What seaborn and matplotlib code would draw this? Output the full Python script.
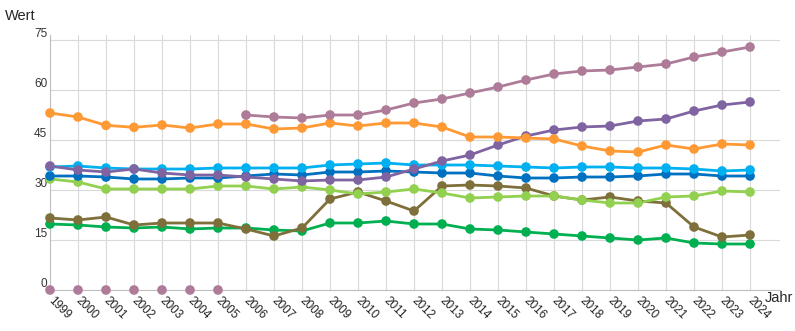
import numpy as np
import pandas as pd
import matplotlib
matplotlib.use("Agg")
import matplotlib.pyplot as plt
import matplotlib.transforms as mtransforms
import seaborn as sns

years = list(range(1999, 2025))

orange = [53.1, 51.9, 49.4, 48.8, 49.5, 48.6, 49.8, 49.8, 48.3, 48.6, 50.1, 49.2, 50.1,
          50.1, 48.9, 45.9, 45.9, 45.6, 45.3, 43.2, 41.7, 41.4, 43.5, 42.3, 43.8, 43.5]
mauve = [0, 0, 0, 0, 0, 0, 0, 52.5, 51.9, 51.6, 52.5, 52.5, 54.0,
         56.1, 57.3, 59.1, 60.9, 63.0, 64.8, 65.7, 66.0, 66.9, 67.8, 69.9, 71.4, 72.9]
purple = [37.2, 36.0, 35.4, 36.3, 35.1, 34.5, 34.5, 33.9, 33.3, 32.7, 33.0, 33.0, 33.9,
          36.3, 38.7, 40.5, 43.5, 46.2, 48.0, 48.9, 49.2, 50.7, 51.3, 53.7, 55.5, 56.4]
light_blue = [36.9, 37.2, 36.6, 36.3, 36.3, 36.3, 36.6, 36.6, 36.6, 36.6, 37.5, 37.8, 38.1,
              37.5, 37.5, 37.5, 37.2, 36.9, 36.6, 36.9, 36.9, 36.6, 36.6, 36.3, 35.7, 36.0]
dark_blue = [34.2, 34.2, 33.9, 33.3, 33.3, 33.6, 33.6, 34.2, 34.8, 34.5, 35.4, 35.4, 35.7,
             35.4, 35.1, 35.1, 34.2, 33.6, 33.6, 33.9, 33.9, 34.2, 34.8, 34.8, 34.2, 34.2]
light_green = [33.3, 32.4, 30.3, 30.3, 30.3, 30.3, 31.2, 31.2, 30.3, 30.9, 30.0, 28.8, 29.4,
               30.3, 29.1, 27.6, 27.9, 28.2, 28.2, 27.0, 26.1, 26.1, 27.9, 28.2, 29.7, 29.4]
olive = [21.6, 21.0, 21.9, 19.5, 20.1, 20.1, 20.1, 18.3, 16.2, 18.6, 27.3, 29.4, 26.7,
         23.7, 31.2, 31.5, 31.2, 30.6, 28.2, 27.0, 27.9, 26.7, 26.1, 18.9, 15.9, 16.5]
green = [19.8, 19.5, 18.9, 18.6, 18.9, 18.3, 18.6, 18.6, 18.0, 17.7, 20.1, 20.1, 20.7,
         19.8, 19.8, 18.3, 18.0, 17.4, 16.8, 16.2, 15.6, 15.0, 15.6, 14.1, 13.8, 13.8]

series = {
    "green": green,
    "olive": olive,
    "light_green": light_green,
    "dark_blue": dark_blue,
    "light_blue": light_blue,
    "purple": purple,
    "orange": orange,
    "mauve": mauve,
}
colors = {
    "green": "#00b050",
    "olive": "#7f6f3a",
    "light_green": "#92d050",
    "dark_blue": "#0070c0",
    "light_blue": "#00b0f0",
    "purple": "#8064a2",
    "orange": "#ff9933",
    "mauve": "#ae7c98",
}

rows = []
for name, vals in series.items():
    for y, v in zip(years, vals):
        rows.append({"Jahr": y, "Wert": v, "Reihe": name})
df = pd.DataFrame(rows)
# zero entries of the mauve series are shown as markers only, without a connecting line
df["Linie"] = df["Wert"].where(~((df["Reihe"] == "mauve") & (df["Wert"] == 0)))

sns.set_theme(style="white")
plt.rcParams["font.family"] = ["Liberation Sans", "DejaVu Sans"]

fig = plt.figure(figsize=(7.95, 3.31), dpi=100)
ax = fig.add_axes([50 / 795, 1 - 290 / 331, 730 / 795, 255 / 331])

sns.lineplot(data=df, x="Jahr", y="Linie", hue="Reihe", palette=colors,
             hue_order=list(series.keys()), linewidth=2, legend=False, ax=ax,
             estimator=None, sort=True)
sns.scatterplot(data=df, x="Jahr", y="Wert", hue="Reihe", palette=colors,
                hue_order=list(series.keys()), s=48, linewidth=0, legend=False,
                ax=ax, clip_on=False, zorder=3)

ax.set_xlim(1999, 2025.07)
ax.set_ylim(0, 76.5)
ax.set_yticks([0, 15, 30, 45, 60, 75])
ax.set_xticks(years)
ax.set_xticklabels([str(y) for y in years], rotation=-45, ha="left", va="top",
                   rotation_mode="anchor", fontsize=8.5, color="#222222")
ax.tick_params(axis="x", length=0, pad=0)
ax.tick_params(axis="y", length=0, pad=2, labelsize=8.5, labelcolor="#333333")
shift = mtransforms.ScaledTranslation(4 / 100, -5 / 100, fig.dpi_scale_trans)
for lab in ax.get_xticklabels():
    lab.set_transform(lab.get_transform() + shift)
for lab in ax.get_yticklabels():
    lab.set_verticalalignment("bottom")

ax.grid(True, color="#d9d9d9", linewidth=0.8)
ax.set_axisbelow(True)
for side in ["top", "right"]:
    ax.spines[side].set_visible(False)
ax.spines["left"].set_color("#bfbfbf")
ax.spines["bottom"].set_color("#bfbfbf")
ax.spines["left"].set_linewidth(0.8)
ax.spines["bottom"].set_linewidth(0.8)

ax.set_xlabel("")
ax.set_ylabel("")
fig.text(5 / 795, 1 - 16 / 331, "Wert", fontsize=10.5, va="center", ha="left")
fig.text(765 / 795, 1 - 298 / 331, "Jahr", fontsize=10.5, va="center", ha="left")

fig.savefig("out.png", dpi=100)
